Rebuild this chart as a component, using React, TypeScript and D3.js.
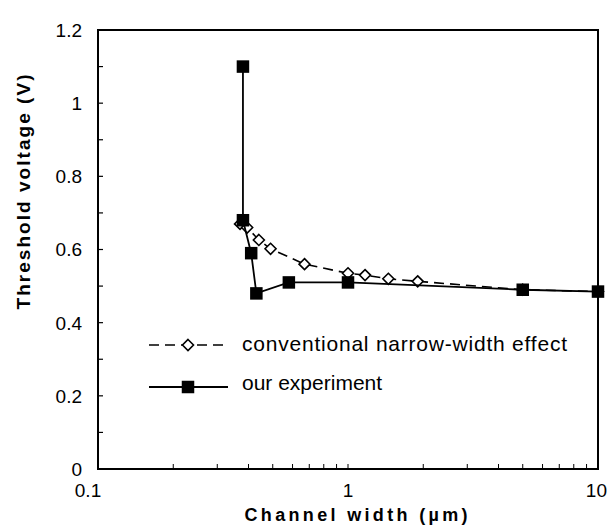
import * as d3 from 'd3'

// channel width (um) and threshold voltage (V)
const expWidth = [0.38, 0.38, 0.41, 0.43, 0.58, 1.0, 5, 10]
const expVth = [1.1, 0.68, 0.59, 0.48, 0.51, 0.51, 0.49, 0.485]

const convWidth = [0.37, 0.395, 0.44, 0.49, 0.67, 1.0, 1.17, 1.45, 1.9, 5, 10]
const convVth = [0.67, 0.66, 0.626, 0.602, 0.56, 0.535, 0.53, 0.52, 0.513, 0.49, 0.485]

const xTicks = [0.1, 1, 10]
const xTickLabels = ['0.1', '1', '10']
const yTicks = [0, 0.2, 0.4, 0.6, 0.8, 1, 1.2]
const yTickLabels = ['0', '0.2', '0.4', '0.6', '0.8', '1', '1.2']

const legendLabels = ['conventional narrow-width effect', 'our experiment']

const W = 610
const H = 529
const left = 98
const right = 598
const top = 30
const bottom = 469
const font = '"Liberation Sans", Arial, Helvetica, sans-serif'

export default function App() {
  const x = d3.scaleLog().domain([0.1, 10]).range([left, right])
  const y = d3.scaleLinear().domain([0, 1.2]).range([bottom, top])

  const exp = expWidth.map((w, i) => [w, expVth[i]] as [number, number])
  const conv = convWidth.map((w, i) => [w, convVth[i]] as [number, number])

  const line = d3.line<[number, number]>()
    .x(d => x(d[0]))
    .y(d => y(d[1]))

  // minor ticks: 2..9 in each decade, and every 0.1 V
  const xMinor = d3.range(-1, 1).flatMap(e => d3.range(2, 10).map(k => k * Math.pow(10, e)))
  const yMinor = d3.range(1, 12).map(k => k / 10)

  const diamond = (cx: number, cy: number, r = 5.5) =>
    `M${cx},${cy - r}L${cx + r},${cy}L${cx},${cy + r}L${cx - r},${cy}Z`

  const sq = 12.5

  // x tick labels sit a little off their ticks in the original
  const xLabelX = (t: number, i: number) => (i === 0 ? x(t) - 10 : i === 2 ? 607 : x(t))
  const xLabelAnchor = (i: number) => (i === 2 ? 'end' : 'middle')

  return (
    <svg width={W} height={H} style={{ display: 'block', background: '#fff' }}>
      <style>{`body{margin:0}`}</style>

      {/* frame */}
      <rect x={left} y={top} width={right - left} height={bottom - top}
        fill="none" stroke="#000" strokeWidth={2} />

      {/* ticks */}
      {xMinor.concat([1]).map((t, i) => (
        <line key={'xm' + i} x1={x(t)} x2={x(t)} y1={bottom} y2={bottom - 5}
          stroke="#000" strokeWidth={1} />
      ))}
      {yMinor.map((t, i) => (
        <line key={'ym' + i} x1={left} x2={left + 5} y1={y(t)} y2={y(t)}
          stroke="#000" strokeWidth={1.2} />
      ))}

      {/* tick labels */}
      {yTicks.map((t, i) => (
        <text key={'yl' + i} x={82} y={y(t)} dy="0.36em" textAnchor="end"
          fontFamily={font} fontSize={19} fill="#000">{yTickLabels[i]}</text>
      ))}
      {xTicks.map((t, i) => (
        <text key={'xl' + i} x={xLabelX(t, i)} y={497} textAnchor={xLabelAnchor(i)}
          fontFamily={font} fontSize={19} fill="#000">{xTickLabels[i]}</text>
      ))}

      {/* axis titles */}
      <text x={356} y={521} textAnchor="middle" fontFamily={font} fontSize={18}
        fontWeight="bold" textLength={223} lengthAdjust="spacing">Channel width (µm)</text>
      <text transform="translate(30,192) rotate(-90)" textAnchor="middle" fontFamily={font}
        fontSize={19} fontWeight="bold" textLength={235} lengthAdjust="spacing">Threshold voltage (V)</text>

      {/* conventional narrow-width effect */}
      <path d={line(conv) ?? ''} fill="none" stroke="#000" strokeWidth={1.6}
        strokeDasharray="10,6" />
      {conv.map((d, i) => (
        <path key={'cd' + i} d={diamond(x(d[0]), y(d[1]))} fill="#fff"
          stroke="#000" strokeWidth={1.6} />
      ))}

      {/* our experiment */}
      <path d={line(exp) ?? ''} fill="none" stroke="#000" strokeWidth={1.8} />
      {exp.map((d, i) => (
        <rect key={'es' + i} x={x(d[0]) - sq / 2} y={y(d[1]) - sq / 2} width={sq} height={sq}
          fill="#000" />
      ))}

      {/* legend */}
      <g>
        <line x1={149} x2={228} y1={345} y2={345} stroke="#000" strokeWidth={1.6}
          strokeDasharray="10,6" />
        <path d={diamond(188, 345)} fill="#fff" stroke="#000" strokeWidth={1.6} />
        <text x={242} y={351} fontFamily={font} fontSize={21} fill="#000"
          textLength={325} lengthAdjust="spacing">{legendLabels[0]}</text>

        <line x1={149} x2={228} y1={387} y2={387} stroke="#000" strokeWidth={1.8} />
        <rect x={188 - sq / 2} y={387 - sq / 2} width={sq} height={sq} fill="#000" />
        <text x={242} y={390} fontFamily={font} fontSize={21} fill="#000">{legendLabels[1]}</text>
      </g>
    </svg>
  )
}
